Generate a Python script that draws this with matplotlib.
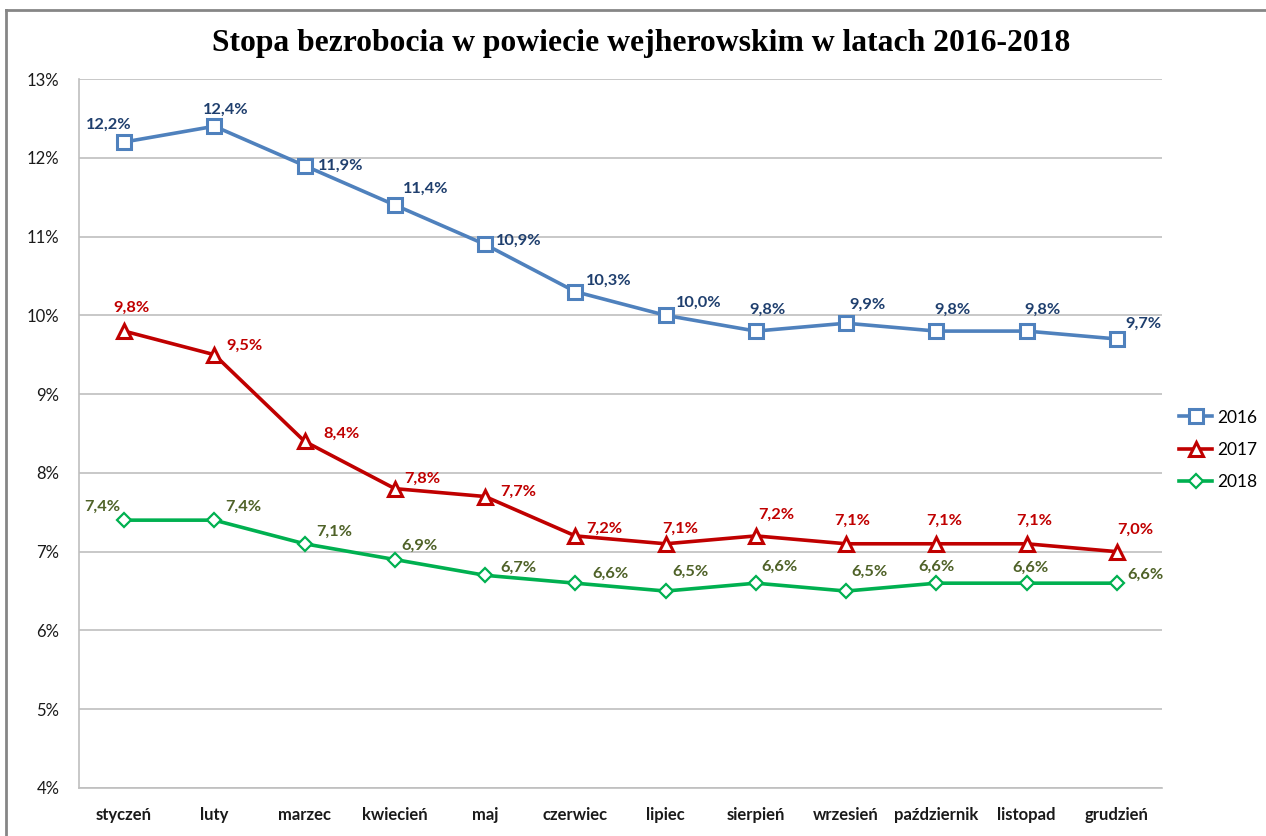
import matplotlib
matplotlib.use("Agg")
import matplotlib.pyplot as plt
from matplotlib.lines import Line2D

months = ["styczeń", "luty", "marzec", "kwiecień", "maj", "czerwiec", "lipiec",
          "sierpień", "wrzesień", "październik", "listopad", "grudzień"]
s2016 = [12.2, 12.4, 11.9, 11.4, 10.9, 10.3, 10.0, 9.8, 9.9, 9.8, 9.8, 9.7]
s2017 = [9.8, 9.5, 8.4, 7.8, 7.7, 7.2, 7.1, 7.2, 7.1, 7.1, 7.1, 7.0]
s2018 = [7.4, 7.4, 7.1, 6.9, 6.7, 6.6, 6.5, 6.6, 6.5, 6.6, 6.6, 6.6]
yticks = [4, 5, 6, 7, 8, 9, 10, 11, 12, 13]
title = "Stopa bezrobocia w powiecie wejherowskim w latach 2016-2018"

# label offsets in pixels (left edge of label relative to marker, upward positive)
off2016 = [(-38, 17), (-11, 16), (13, 0), (8, 16), (11, 4), (11, 11), (10, 13),
           (-7, 21), (3, 18), (-2, 21), (-2, 21), (8, 15)]
off2017 = [(-11, 23), (12, 9), (19, 8), (9, 10), (15, 5), (11, 7), (-3, 15),
           (2, 21), (-12, 23), (-10, 23), (-10, 23), (0, 22)]
off2018 = [(-40, 13), (11, 13), (12, 12), (7, 14), (15, 8), (17, 9), (7, 19),
           (6, 16), (5, 19), (-18, 16), (-14, 15), (11, 8)]

font = ["Lato", "DejaVu Sans"]
plt.rcParams["font.family"] = font

W, H = 1266, 836
fig = plt.figure(figsize=(W / 100, H / 100), dpi=100)
ax = fig.add_axes([79 / W, (H - 788) / H, (1162 - 79) / W, (788 - 79) / H])

x = list(range(len(months)))
series = [
    ("2016", s2016, "#4F81BD", "#1F3F6E", "s", 10, 2.2, off2016),
    ("2017", s2017, "#C00000", "#C00000", "^", 10.5, 2.2, off2017),
    ("2018", s2018, "#00B050", "#4F6228", "D", 7, 1.6, off2018),
]
handles = []
for name, vals, col, lcol, mk, ms, mew, offs in series:
    ln, = ax.plot(x, vals, color=col, lw=2.6, marker=mk, markersize=ms,
                  markerfacecolor="white", markeredgecolor=col, markeredgewidth=mew,
                  label=name, zorder=3)
    handles.append(ln)
    for xi, v, (dx, dy) in zip(x, vals, offs):
        ax.annotate(f"{v:.1f}%".replace(".", ","), (xi, v), xytext=(dx, dy),
                    textcoords="offset pixels", ha="left", va="center",
                    fontsize=11.8, fontweight="bold", color=lcol, zorder=4)

ax.set_xlim(-0.5, len(months) - 0.5)
ax.set_ylim(4, 13)
ax.set_yticks(yticks)
ax.set_yticklabels([f"{t}%" for t in yticks], fontsize=12, color="#1a1a1a")
ax.set_xticks(x)
ax.set_xticklabels(months, fontsize=12, fontweight="bold", color="#1a1a1a")
ax.tick_params(axis="both", length=0)
ax.tick_params(axis="y", pad=14)
ax.tick_params(axis="x", pad=14)
ax.grid(axis="y", color="#BFBFBF", lw=1.2)
ax.set_axisbelow(True)
for s in ["top", "right"]:
    ax.spines[s].set_visible(False)
for s in ["left", "bottom"]:
    ax.spines[s].set_color("#BFBFBF")
    ax.spines[s].set_linewidth(1.2)

fig.text(641 / W, 1 - 43 / H, title, ha="center", va="center",
         fontsize=22.8, fontweight="bold", family="Liberation Serif")

leg = fig.legend(handles=handles, loc="center left",
                 bbox_to_anchor=(1176 / W, 1 - 450 / H), frameon=False,
                 fontsize=12.5, handlelength=1.9, handletextpad=0.25,
                 labelspacing=0.95, borderpad=0.2, borderaxespad=0)

# outer chart border
fig.add_artist(Line2D([6 / W, 1], [1 - 9.5 / H, 1 - 9.5 / H], color="#868686", lw=2,
                      transform=fig.transFigure))
fig.add_artist(Line2D([6 / W, 6 / W], [0, 1 - 9.5 / H], color="#868686", lw=2,
                      transform=fig.transFigure))

fig.savefig("out.png", dpi=100)
